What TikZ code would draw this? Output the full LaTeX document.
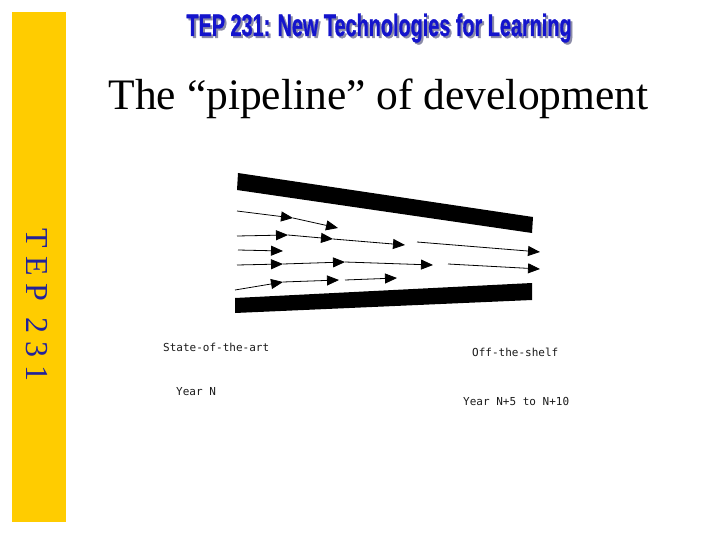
\documentclass[tikz,border=0pt]{standalone}
\usepackage{fontspec}
\usetikzlibrary{arrows.meta}
\setmainfont{Liberation Serif}
\newfontfamily\titlefont{Liberation Sans}[BoldFeatures={FakeBold=1.2}]
\newfontfamily\monofont{DejaVu Sans Mono}
\definecolor{sidebar}{HTML}{FFCC00}
\definecolor{titleblue}{HTML}{1414CC}
\definecolor{titleshadow}{HTML}{8C8CA8}
\definecolor{sideblue}{HTML}{22229A}
\definecolor{labelgray}{HTML}{1A1A1A}
\newcommand{\titlestr}{\scalebox{0.64}[1]{TEP 231: New Technologies for Learning}}
\tikzset{
  flow/.style={-{Triangle[length=12pt,width=10pt]}, line width=0.8pt, black},
  pipewall/.style={fill=black, draw=none},
  lbl/.style={font=\monofont\fontsize{11}{13}\selectfont, text=labelgray, anchor=base west, inner sep=0pt},
  titletext/.style={font=\titlefont\bfseries\fontsize{31}{33}\selectfont, anchor=base, inner sep=0pt}
}
\begin{document}
\begin{tikzpicture}[x=1pt,y=-1pt]
\useasboundingbox (0,0) rectangle (720,540);
% side bar
\fill[sidebar] (12,12) rectangle (66,522);
\node[font=\fontsize{32}{34}\selectfont, text=sideblue, rotate=-90, inner sep=0pt] (side) at (37,305) {T E P~~2 3 1};
% title with shadow
\node[titletext, text=titleblue] (title) at (379,36)
  {\makebox[0pt][l]{\hspace{2pt}\raisebox{-2pt}{\textcolor{titleshadow}{\titlestr}}}\titlestr};
% subtitle
\node[font=\fontsize{43.5}{46}\selectfont, anchor=base, inner sep=0pt] (sub) at (378.5,110) {The “pipeline” of development};
% pipe walls
\fill[pipewall] (238,173) -- (533,217) -- (532,233) -- (237,190) -- cycle;
\fill[pipewall] (235,298) -- (532,283) -- (532,300) -- (235,313) -- cycle;
% flow coordinates
\coordinate (a0) at (237,211); \coordinate (a1) at (293,218); \coordinate (a2) at (338,228);
\coordinate (b0) at (237,236); \coordinate (b1) at (288,235); \coordinate (b2) at (333,239);
\coordinate (b3) at (405,245); \coordinate (b4) at (417,242); \coordinate (b5) at (540,252);
\coordinate (c0) at (238,250); \coordinate (c1) at (283,251);
\coordinate (d0) at (237,265); \coordinate (d1) at (283,264); \coordinate (d2) at (345,262);
\coordinate (d3) at (433,265); \coordinate (d4) at (448,264); \coordinate (d5) at (540,269);
\coordinate (e0) at (235,290); \coordinate (e1) at (283,282); \coordinate (e2) at (339,280);
\coordinate (e3) at (345,280); \coordinate (e4) at (397,278);
% flow arrows
\draw[flow] (a0) -- (a1); \draw[flow] (a1) -- (a2);
\draw[flow] (b0) -- (b1); \draw[flow] (b1) -- (b2); \draw[flow] (b2) -- (b3); \draw[flow] (b4) -- (b5);
\draw[flow] (c0) -- (c1);
\draw[flow] (d0) -- (d1); \draw[flow] (d1) -- (d2); \draw[flow] (d2) -- (d3); \draw[flow] (d4) -- (d5);
\draw[flow] (e0) -- (e1); \draw[flow] (e1) -- (e2); \draw[flow] (e3) -- (e4);
% labels
\node[lbl] (soa) at (163,351) {State-of-the-art};
\node[lbl] (ots) at (472,356) {Off-the-shelf};
\node[lbl] (yn) at (176,395) {Year N};
\node[lbl] (yn5) at (463,405) {Year N+5 to N+10};
\end{tikzpicture}
\end{document}
